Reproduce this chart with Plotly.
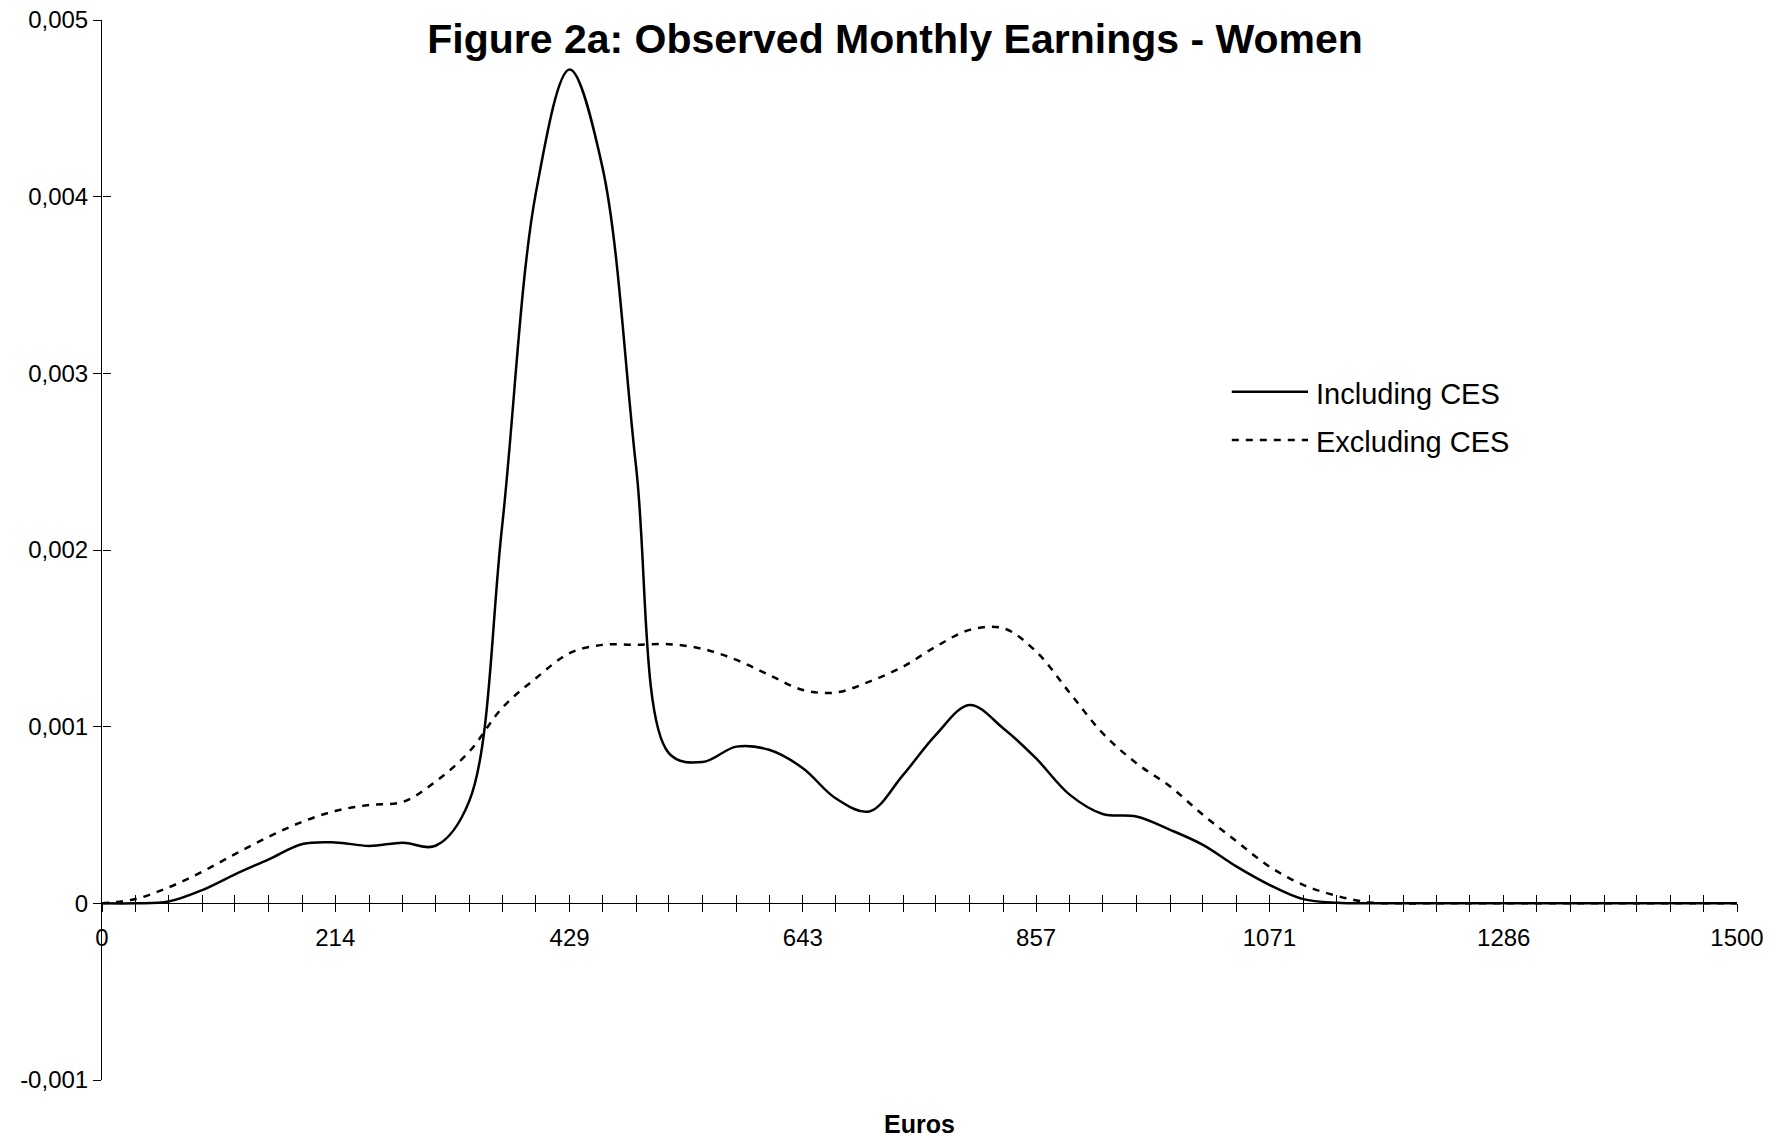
import plotly.graph_objects as go

# categories on the x axis (1500 euros split into 49 steps)
euros = [0, 31, 61, 92, 122, 153, 184, 214, 245, 276, 306, 337, 367, 398, 429,
         459, 490, 520, 551, 582, 612, 643, 673, 704, 735, 765, 796, 827, 857,
         888, 918, 949, 980, 1010, 1041, 1071, 1102, 1133, 1163, 1194, 1224,
         1255, 1286, 1316, 1347, 1378, 1408, 1439, 1469, 1500]

including_ces = [0, 0, 0.00001, 0.000075, 0.000164, 0.000249, 0.000336, 0.000345,
                 0.000325, 0.000343, 0.000326, 0.00058, 0.00213, 0.00402, 0.00472,
                 0.00417, 0.00247, 0.00085, 0.0008, 0.000887, 0.000869, 0.000765,
                 0.000595, 0.00052, 0.000727, 0.000954, 0.001123, 0.00099, 0.00082,
                 0.000614, 0.000506, 0.000491, 0.000416, 0.000331, 0.000208,
                 0.000105, 0.000024, 0.000003, 0, 0, 0, 0, 0, 0, 0, 0, 0, 0, 0, 0]

excluding_ces = [0, 0.000025, 0.00009, 0.000179, 0.000279, 0.000377, 0.000462,
                 0.000523, 0.000557, 0.000574, 0.000689, 0.000859, 0.001105,
                 0.001274, 0.001416, 0.001463, 0.001463, 0.001467, 0.00144,
                 0.001378, 0.001293, 0.001208, 0.001193, 0.001255, 0.00134,
                 0.001453, 0.001548, 0.001557, 0.001425, 0.00119, 0.000963,
                 0.000793, 0.000661, 0.000501, 0.00035, 0.000208, 0.000105,
                 0.000042, 0.000005, 0, 0, 0, 0, 0, 0, 0, 0, 0, 0, 0]

x_labels = [0, 214, 429, 643, 857, 1071, 1286, 1500]
y_ticks = [-0.001, 0, 0.001, 0.002, 0.003, 0.004, 0.005]
y_labels = ["-0,001", "0", "0,001", "0,002", "0,003", "0,004", "0,005"]

FONT = "Liberation Sans, Arial, sans-serif"
DASH = "7px,7px"

# page body has an 8px margin, so the figure is 8px smaller each way
W, H = 1781, 1132

fig = go.Figure()
fig.add_trace(go.Scatter(x=euros, y=including_ces, mode="lines", name="Including CES",
                         line=dict(color="black", width=2.5, shape="spline")))
fig.add_trace(go.Scatter(x=euros, y=excluding_ces, mode="lines", name="Excluding CES",
                         line=dict(color="black", width=2.5, dash=DASH, shape="spline")))
# empty trace so the overlay axes (inner half of crossing ticks) get drawn
fig.add_trace(go.Scatter(x=[None], y=[None], xaxis="x2", yaxis="y2",
                         showlegend=False, hoverinfo="skip"))

zero_pos = (0 - y_ticks[0]) / (y_ticks[-1] - y_ticks[0])
x_ticktext = [str(v) if v in x_labels else "" for v in euros]

axis_common = dict(showgrid=False, zeroline=False, tickcolor="black", tickwidth=1,
                   ticklen=8, automargin=False)

fig.update_layout(
    width=W, height=H,
    margin=dict(l=94, r=52, t=12, b=60, pad=0),
    paper_bgcolor="white", plot_bgcolor="white",
    showlegend=False,
    font=dict(family=FONT, color="black", size=24),
    title=dict(text="<b>Figure 2a: Observed Monthly Earnings - Women</b>",
               x=887 / W, xref="container", xanchor="center",
               y=1 - 31 / H, yref="container", yanchor="middle",
               font=dict(size=41, family=FONT, color="black")),
    xaxis=dict(range=[0, 1500], anchor="free", position=zero_pos,
               showline=True, linecolor="black", linewidth=1,
               ticks="outside", tickmode="array", tickvals=euros, ticktext=x_ticktext,
               tickfont=dict(size=24), ticklabelstandoff=5, ticklabeloverflow="allow",
               **axis_common),
    xaxis2=dict(range=[0, 1500], overlaying="x", anchor="free", position=zero_pos,
                showline=False, ticks="inside", tickmode="array", tickvals=euros,
                showticklabels=False, **axis_common),
    yaxis=dict(range=[y_ticks[0], y_ticks[-1]], showline=True, linecolor="black", linewidth=1,
               ticks="outside", tickmode="array", tickvals=y_ticks, ticktext=y_labels,
               tickfont=dict(size=24), ticklabeloverflow="allow", **axis_common),
    yaxis2=dict(range=[y_ticks[0], y_ticks[-1]], overlaying="y", anchor="free", position=0,
                showline=False, ticks="inside", tickmode="array", tickvals=y_ticks,
                showticklabels=False, **axis_common),
)

# hand-made legend, long line samples like the original
legend_rows = [("Including CES", "solid", 0.6493, 0.6472),
               ("Excluding CES", DASH, 0.6038, 0.6019)]
for name, dash, y_line, y_text in legend_rows:
    fig.add_shape(type="line", xref="paper", yref="paper", x0=0.691, x1=0.7376,
                  y0=y_line, y1=y_line, line=dict(color="black", width=2.5, dash=dash))
    fig.add_annotation(text=name, xref="paper", yref="paper", x=0.741, y=y_text,
                       xanchor="left", yanchor="middle", showarrow=False,
                       font=dict(size=29, family=FONT, color="black"))

fig.add_annotation(text="<b>Euros</b>", xref="paper", yref="paper", x=0.5, y=-0.0415,
                   xanchor="center", yanchor="middle", showarrow=False,
                   font=dict(size=25, family=FONT, color="black"))

fig.write_html("out.html")
